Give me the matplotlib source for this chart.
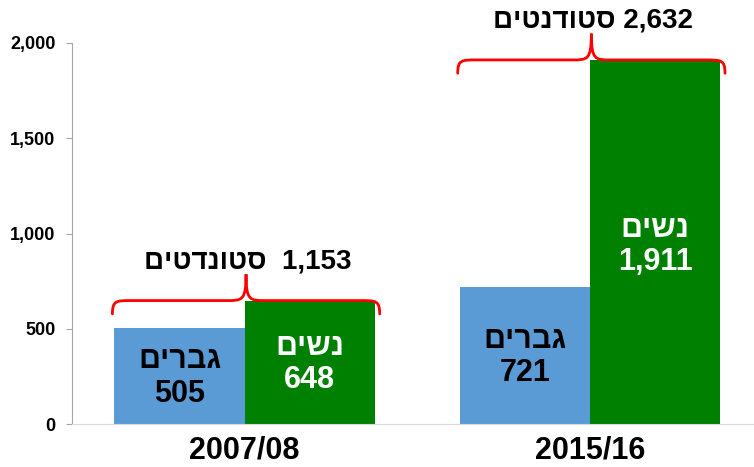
import matplotlib
matplotlib.use("Agg")
import numpy as np
from matplotlib import pyplot as plt
from matplotlib.path import Path
from matplotlib.patches import PathPatch

years = ["2007/08", "2015/16"]
men = [505, 721]
women = [648, 1911]
totals = [1153, 2632]
men_label = "גברים"
women_label = "נשים"
total_words = ["סטונדטים", "סטודנטים"]
total_gaps = ["  ", " "]

BLUE = "#5B9BD5"
GREEN = "#008000"
RED = "#FF0000"
FONT = ["Liberation Sans", "DejaVu Sans"]

plt.rcParams["font.family"] = FONT
plt.rcParams["font.weight"] = "bold"


def vis(s):
    # matplotlib has no bidi support, so put Hebrew in visual order by hand
    return s[::-1]


def brace(ax, x0, x1, y, up, down, r):
    xc = (x0 + x1) / 2
    verts = [
        (x0, y - down),
        (x0, y), (x0 + r * 0.2, y), (x0 + r, y),
        (xc - r, y),
        (xc - r * 0.2, y), (xc, y), (xc, y + up),
        (xc, y), (xc + r * 0.2, y), (xc + r, y),
        (x1 - r, y),
        (x1 - r * 0.2, y), (x1, y), (x1, y - down),
    ]
    codes = [Path.MOVETO,
             Path.CURVE4, Path.CURVE4, Path.CURVE4,
             Path.LINETO,
             Path.CURVE4, Path.CURVE4, Path.CURVE4,
             Path.CURVE4, Path.CURVE4, Path.CURVE4,
             Path.LINETO,
             Path.CURVE4, Path.CURVE4, Path.CURVE4]
    ax.add_patch(PathPatch(Path(verts, codes), fill=False, edgecolor=RED,
                           lw=2.0, clip_on=False, capstyle="round"))


fig = plt.figure(figsize=(7.54, 4.67), dpi=100)
ax = fig.add_axes([0.0955, 0.092, 0.9045, 0.816])

x = np.arange(len(years))
w = 0.377
ax.bar(x - w / 2, men, width=w, color=BLUE)
ax.bar(x + w / 2, women, width=w, color=GREEN)

ax.set_xlim(-0.5, 1.475)
ax.set_ylim(0, 2000)
ax.set_yticks([0, 500, 1000, 1500, 2000])
ax.set_yticklabels([f"{v:,}" for v in [0, 500, 1000, 1500, 2000]],
                   fontsize=13, fontweight="bold")
ax.set_xticks(x)
ax.set_xticklabels(years, fontsize=22, fontweight="bold")
ax.tick_params(axis="x", length=0, pad=8)
ax.tick_params(axis="y", length=4, color="#A6A6A6", pad=8)

for s in ["top", "right"]:
    ax.spines[s].set_visible(False)
ax.spines["left"].set_color("#A6A6A6")
ax.spines["bottom"].set_color("#D9D9D9")

for i in range(len(years)):
    ax.text(x[i] - w / 2, men[i] * 0.49, vis(men_label) + "\n" + f"{men[i]:,}",
            ha="center", va="center", fontsize=22, fontweight="bold",
            color="black", linespacing=1.15)
    ax.text(x[i] + w / 2, women[i] * 0.49, vis(women_label) + "\n" + f"{women[i]:,}",
            ha="center", va="center", fontsize=22, fontweight="bold",
            color="white", linespacing=1.15)

    top = max(men[i], women[i])
    brace(ax, x[i] - w - 0.006, x[i] + w + 0.014, top, 138, 70, 0.055)
    ax.text(x[i] + 0.008, top + 205,
            vis(total_words[i]) + total_gaps[i] + f"{totals[i]:,}",
            ha="center", va="center", fontsize=20, fontweight="bold",
            clip_on=False)

fig.savefig("out.png", dpi=100)
